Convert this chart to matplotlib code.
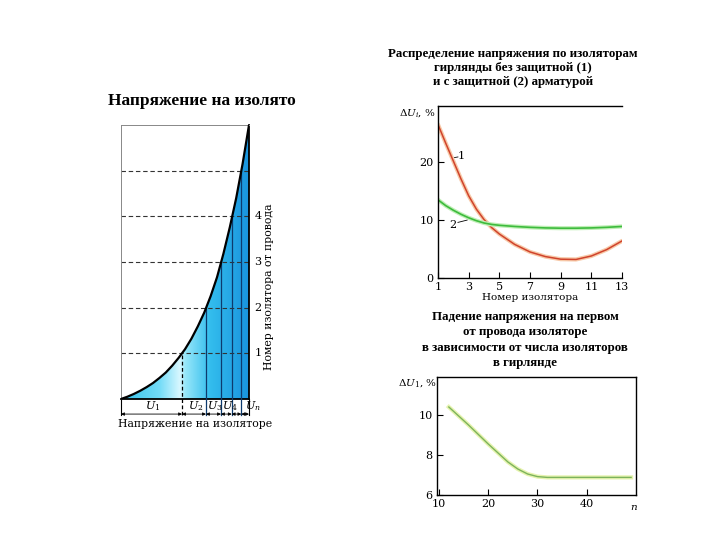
import numpy as np
import matplotlib
matplotlib.use("Agg")
import matplotlib.pyplot as plt
from matplotlib.colors import LinearSegmentedColormap
from matplotlib.patches import Polygon

plt.rcParams['mathtext.fontset'] = 'dejavuserif'
SERIF = ['DejaVu Serif']
TSERIF = ['Liberation Serif', 'DejaVu Serif']

# ---------------- data ----------------
# Left diagram: cumulative voltage (fraction of total) vs insulator level from the wire
curve_u = [0.0, 0.05, 0.10, 0.15, 0.20, 0.25, 0.30, 0.35, 0.40, 0.45, 0.50,
           0.55, 0.60, 0.65, 0.70, 0.75, 0.80, 0.85, 0.90, 0.95, 1.0]
curve_lvl = [0.0, 0.05, 0.11, 0.18, 0.26, 0.35, 0.46, 0.58, 0.73, 0.90, 1.09,
             1.32, 1.59, 1.89, 2.25, 2.665, 3.18, 3.76, 4.40, 5.15, 6.0]
bound_u = [0.477, 0.664, 0.781, 0.865, 0.94]   # intersections at levels 1..5
bound_lvl = [1, 2, 3, 4, 5]
u_labels = ['$U_1$', '$U_2$', '$U_3$', '$U_4$', '$U_n$']
right_ticks = [1, 2, 3, 4]

# Top-right: voltage distribution along the string, %
ins_num = [1, 1.5, 2, 2.5, 3, 3.5, 4, 4.5, 5, 6, 7, 8, 9, 10, 11, 12, 13]
du_no_guard = [26.5, 23.3, 20.2, 17.1, 14.2, 11.9, 10.1, 8.7, 7.6, 5.8, 4.5, 3.7, 3.25, 3.2, 3.8, 4.9, 6.4]
du_guard = [13.5, 12.5, 11.7, 11.0, 10.4, 9.9, 9.5, 9.25, 9.1, 8.9, 8.75, 8.65, 8.6, 8.6, 8.65, 8.75, 8.9]

# Bottom-right: voltage drop on the first insulator vs number of insulators, %
n_ins = [12, 16, 20, 24, 26, 28, 30, 32, 49]
du_first = [10.4, 9.5, 8.55, 7.65, 7.3, 7.05, 6.92, 6.88, 6.88]

W, H = 720, 540
fig = plt.figure(figsize=(7.2, 5.4), dpi=100)


def rect(l, t, r, b):
    return [l / W, 1 - b / H, (r - l) / W, (b - t) / H]


# ---------------- left diagram ----------------
ax0 = fig.add_axes(rect(121, 125, 249, 399))
ax0.set_xlim(0, 1)
ax0.set_ylim(0, 6)
ax0.set_xticks([])
ax0.set_yticks([])
for s in ['left', 'top']:
    ax0.spines[s].set_color('#888888')
    ax0.spines[s].set_linewidth(0.7)
for s in ['right', 'bottom']:
    ax0.spines[s].set_color('black')
    ax0.spines[s].set_linewidth(1.3)

cmap = LinearSegmentedColormap.from_list('blu', [
    (0.0, (0.20, 0.76, 0.92)),
    (0.30, (0.45, 0.86, 0.97)),
    (0.46, (0.85, 0.97, 1.0)),
    (0.50, (0.60, 0.91, 0.98)),
    (0.70, (0.20, 0.74, 0.93)),
    (1.0, (0.10, 0.58, 0.87)),
])
grad = np.tile(np.linspace(0, 1, 256), (2, 1))
im = ax0.imshow(grad, extent=(0, 1, 0, 6), aspect='auto', cmap=cmap, origin='lower', zorder=1)
poly = Polygon(list(zip(curve_u, curve_lvl)) + [(1, 0)], closed=True, transform=ax0.transData,
               facecolor='none', edgecolor='none')
ax0.add_patch(poly)
im.set_clip_path(poly)

for lv in bound_lvl:
    ax0.plot([0, 1], [lv, lv], color='#333333', lw=0.8, ls=(0, (4, 2.5)), zorder=2)

for i, (u, lv) in enumerate(zip(bound_u, bound_lvl)):
    if i == 0:
        ax0.plot([u, u], [-0.35, lv], color='black', lw=0.9, ls=(0, (3, 2)), zorder=3, clip_on=False)
    else:
        ax0.plot([u, u], [-0.35, lv], color='#0D3A6E', lw=0.9, zorder=3, clip_on=False)
for u in [0, 1]:
    ax0.plot([u, u], [-0.35, 0], color='black', lw=0.8, clip_on=False)

ax0.plot(curve_u, curve_lvl, color='black', lw=1.6, zorder=4, solid_joinstyle='round')

edges = [0] + bound_u + [1]
for a, b in zip(edges[:-1], edges[1:]):
    ax0.annotate('', xy=(b, -0.33), xytext=(a, -0.33), xycoords='data',
                 arrowprops=dict(arrowstyle='<|-|>', lw=0.6, color='black',
                                 mutation_scale=4.5, shrinkA=0, shrinkB=0),
                 annotation_clip=False)
u_pos = [0.25, 0.52, 0.668, 0.79, 0.965]
for x, t in zip(u_pos, u_labels):
    ax0.text(x, -0.16, t, fontsize=8, ha='center' if x < 0.3 else 'left', va='center',
             family=SERIF, clip_on=False)

for t in right_ticks:
    ax0.text(1.07, t, str(t), fontsize=8, ha='center', va='center', family=SERIF, clip_on=False)
ax0.text(1.16, 2.45, 'Номер изолятора от провода', rotation=90, fontsize=7.8,
         ha='center', va='center', family=SERIF, clip_on=False)
ax0.text(0.58, -0.55, 'Напряжение на изоляторе', fontsize=7.8, ha='center', va='center',
         family=SERIF, clip_on=False)

fig.text(108 / W, 1 - 101 / H, 'Напряжение на изолято', fontsize=12.5, fontweight='bold',
         family=TSERIF, ha='left', va='center')

# ---------------- top-right chart ----------------
ax1 = fig.add_axes(rect(438, 106, 622, 278))
ax1.plot(ins_num, du_no_guard, color='#F7C9A8', lw=3.0, solid_capstyle='round')
ax1.plot(ins_num, du_no_guard, color='#D0432C', lw=1.1)
ax1.plot(ins_num, du_guard, color='#BFEFB5', lw=3.0)
ax1.plot(ins_num, du_guard, color='#3DBB3D', lw=1.2)
ax1.set_xlim(1, 13)
ax1.set_ylim(0, 29.7)
ax1.set_xticks([1, 3, 5, 7, 9, 11, 13])
ax1.set_yticks([0, 10, 20])
ax1.tick_params(direction='in', length=4, width=0.8, labelsize=8, pad=3)
for lab in ax1.get_xticklabels() + ax1.get_yticklabels():
    lab.set_family(SERIF)
ax1.spines['right'].set_visible(False)
for s in ['left', 'bottom', 'top']:
    ax1.spines[s].set_linewidth(1.0)
ax1.text(2.47, 21.2, '$\\mathit{1}$', fontsize=8, ha='center', va='center')
ax1.plot([2.08, 2.3], [20.8, 20.9], color='black', lw=0.6)
ax1.text(1.99, 9.3, '$\\mathit{2}$', fontsize=8, ha='center', va='center')
ax1.plot([2.3, 2.9], [9.6, 10.0], color='black', lw=0.6)
fig.text(417 / W, 1 - 113 / H, '$\\Delta U_i$, %', fontsize=7.5,
         ha='center', va='center', family=SERIF)
ax1.text(0.5, -0.115, 'Номер изолятора', transform=ax1.transAxes, fontsize=7.5,
         ha='center', va='center', family=SERIF)

for i, line in enumerate(['Распределение напряжения по изоляторам',
                          'гирлянды без защитной (1)',
                          'и с защитной (2) арматурой']):
    fig.text(513 / W, 1 - (54 + 14 * i) / H, line, fontsize=9.3, fontweight='bold',
             family=TSERIF, ha='center', va='center')

# ---------------- bottom-right chart ----------------
ax2 = fig.add_axes(rect(437, 377, 636, 495))
ax2.plot(n_ins, du_first, color='#E6F3AE', lw=3.0)
ax2.plot(n_ins, du_first, color='#7CB35C', lw=1.0)
ax2.set_xlim(9.6, 50)
ax2.set_ylim(6, 11.9)
ax2.set_xticks([10, 20, 30, 40])
ax2.set_yticks([6, 8, 10])
ax2.tick_params(direction='in', length=4, width=0.8, labelsize=8, pad=3)
for lab in ax2.get_xticklabels() + ax2.get_yticklabels():
    lab.set_family(SERIF)
for s in ax2.spines.values():
    s.set_linewidth(1.0)
fig.text(417 / W, 1 - 383 / H, '$\\Delta U_1$, %', fontsize=7.5,
         ha='center', va='center', family=SERIF)
ax2.text(0.99, -0.1, '$n$', transform=ax2.transAxes, fontsize=7.5, ha='center', va='center')

for i, line in enumerate(['Падение напряжения на первом',
                          'от провода изоляторе',
                          'в зависимости от числа изоляторов',
                          'в гирлянде']):
    fig.text(525 / W, 1 - (317 + 15.3 * i) / H, line, fontsize=9.3, fontweight='bold',
             family=TSERIF, ha='center', va='center')

fig.savefig('out.png', dpi=100)
